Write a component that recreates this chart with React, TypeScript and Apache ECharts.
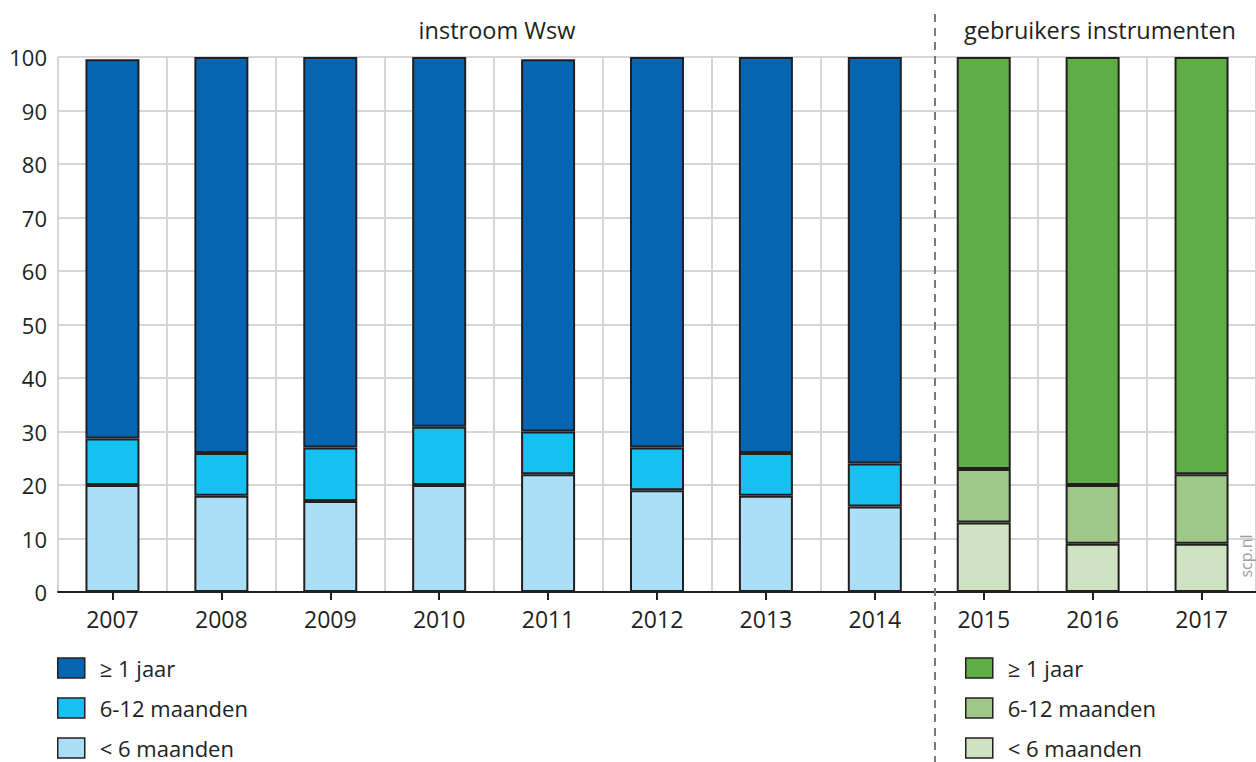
import React, { useEffect, useRef } from "react";
import * as echarts from "echarts";

const years = ["2007", "2008", "2009", "2010", "2011", "2012", "2013", "2014", "2015", "2016", "2017"];
const yTicks = [0, 10, 20, 30, 40, 50, 60, 70, 80, 90, 100];

// instroom Wsw (2007-2014)
const wswLess6 = [20, 18, 17, 20, 22, 19, 18, 16, "-", "-", "-"];
const wsw6to12 = [8.7, 8, 10, 10.9, 8, 8, 8, 8, "-", "-", "-"];
const wswYear = [70.9, 74, 73, 69.1, 69.6, 73, 74, 76, "-", "-", "-"];

// gebruikers instrumenten (2015-2017)
const gebrLess6 = ["-", "-", "-", "-", "-", "-", "-", "-", 13, 9, 9];
const gebr6to12 = ["-", "-", "-", "-", "-", "-", "-", "-", 10, 11, 13];
const gebrYear = ["-", "-", "-", "-", "-", "-", "-", "-", 77, 80, 78];

const legendLabels = ["≥ 1 jaar", "6-12 maanden", "< 6 maanden"];
const groupTitles = ["instroom Wsw", "gebruikers instrumenten"];

const FONT = "'Open Sans', 'Noto Sans', sans-serif";
const TEXT = "#231f20";

export default function App() {
  const ref = useRef<HTMLDivElement>(null);

  useEffect(() => {
    if (!ref.current) return;
    const chart = echarts.init(ref.current, undefined, { renderer: "svg" });

    const border = { borderColor: "#231f20", borderWidth: 2 };
    const mk = (name: string, data: any[], color: string, stack: string) => ({
      name,
      type: "bar",
      stack,
      data,
      barWidth: 54,
      barGap: "-100%",
      itemStyle: { color, ...border },
      emphasis: { disabled: true },
    });

    const nameMap: Record<string, string> = {
      wsw1: legendLabels[0],
      wsw2: legendLabels[1],
      wsw3: legendLabels[2],
      gebr1: legendLabels[0],
      gebr2: legendLabels[1],
      gebr3: legendLabels[2],
    };

    const legendCommon = {
      orient: "vertical",
      itemWidth: 27,
      itemHeight: 20,
      itemGap: 18,
      padding: 0,
      icon: "rect",
      selectedMode: false,
      itemStyle: { borderColor: "#231f20", borderWidth: 1.5 },
      textStyle: { fontFamily: FONT, fontSize: 22, lineHeight: 20, color: TEXT, padding: [0, 0, 0, 10] },
      formatter: (n: string) => nameMap[n] ?? n,
    };

    chart.setOption({
      animation: false,
      grid: { left: 58, top: 57, width: 1206, height: 535, containLabel: false },
      xAxis: {
        type: "category",
        data: years,
        boundaryGap: true,
        axisLine: { show: true, lineStyle: { color: "#231f20", width: 2 } },
        axisTick: { show: true, alignWithLabel: true, length: 8, lineStyle: { color: "#231f20", width: 2 } },
        axisLabel: { fontFamily: FONT, fontSize: 23, color: TEXT, margin: 15 },
        splitLine: {
          show: true,
          interval: (i: number) => i !== 8,
          lineStyle: { color: "#d6d6d6", width: 2 },
        },
      },
      yAxis: {
        type: "value",
        min: yTicks[0],
        max: yTicks[yTicks.length - 1],
        interval: 10,
        axisLine: { show: false },
        axisTick: { show: false },
        axisLabel: { fontFamily: FONT, fontSize: 22, color: TEXT, margin: 11 },
        splitLine: { show: true, lineStyle: { color: "#d6d6d6", width: 2 } },
      },
      legend: [
        { ...legendCommon, left: 57, top: 657, data: ["wsw1", "wsw2", "wsw3"] },
        { ...legendCommon, left: 965, top: 657, data: ["gebr1", "gebr2", "gebr3"] },
      ],
      series: [
        mk("wsw3", wswLess6, "#aadff7", "wsw"),
        mk("wsw2", wsw6to12, "#16c1f1", "wsw"),
        mk("wsw1", wswYear, "#0565b0", "wsw"),
        mk("gebr3", gebrLess6, "#cfe2c2", "gebr"),
        mk("gebr2", gebr6to12, "#9fc788", "gebr"),
        mk("gebr1", gebrYear, "#5fae45", "gebr"),
      ],
      graphic: [
        {
          type: "line",
          shape: { x1: 935, y1: 14, x2: 935, y2: 762 },
          style: { stroke: "#7a7a7a", lineWidth: 2, lineDash: [8, 6] },
          z: 10,
        },
        {
          type: "text",
          x: 497,
          y: 30,
          style: {
            text: groupTitles[0],
            fontFamily: FONT,
            fontSize: 23.5,
            fill: TEXT,
            align: "center",
            verticalAlign: "middle",
          },
        },
        {
          type: "text",
          x: 1100,
          y: 30,
          style: {
            text: groupTitles[1],
            fontFamily: FONT,
            fontSize: 23.5,
            fill: TEXT,
            align: "center",
            verticalAlign: "middle",
          },
        },
        {
          type: "text",
          x: 1246,
          y: 556,
          rotation: Math.PI / 2,
          style: {
            text: "scp.nl",
            fontFamily: FONT,
            fontSize: 16,
            fill: "#a0a0a0",
            align: "center",
            verticalAlign: "middle",
          },
          z: 20,
        },
      ],
    });

    return () => chart.dispose();
  }, []);

  return (
    <div
      ref={ref}
      style={{ position: "absolute", left: 0, top: 0, width: 1256, height: 762, background: "#fff" }}
    />
  );
}
